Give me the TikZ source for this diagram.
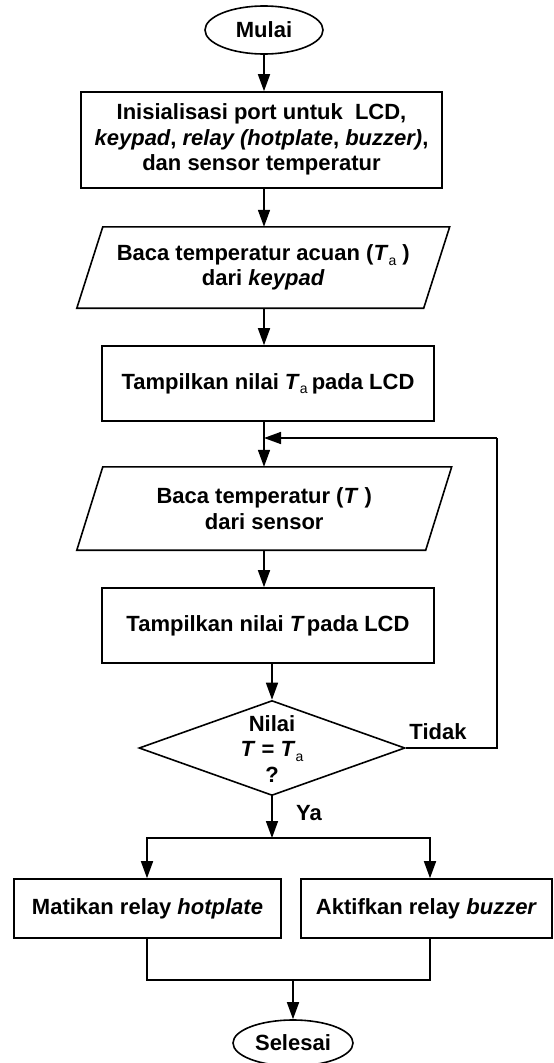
\documentclass[tikz,border=0pt]{standalone}
\usepackage{fontspec}
\setmainfont{Liberation Sans}
\usetikzlibrary{arrows.meta,shapes.geometric}
\newcommand{\Tsub}{\textit{T}\raisebox{-0.4ex}{\fontsize{14}{14}\selectfont\mdseries a}}
\begin{document}
\begin{tikzpicture}[x=1pt,y=-1pt,
  every node/.style={font=\fontsize{22}{25.5}\selectfont\bfseries, inner sep=0pt},
  proc/.style={draw, line width=1.6pt, rectangle, align=center},
  term/.style={draw, line width=1.6pt, ellipse},
  iobox/.style={align=center},
  conn/.style={line width=1.6pt, -{Triangle[length=17pt,width=12pt]}},
  plain/.style={line width=1.6pt},
]
\useasboundingbox (0,0) rectangle (554,1063);
% terminals
\node[term, minimum width=118pt, minimum height=48pt] (mulai) at (264,30) {Mulai};
\node[term, minimum width=120pt, minimum height=46pt] (selesai) at (293,1043) {Selesai};
% process boxes
\node[proc, minimum width=361pt, minimum height=96pt] (box1) at (261.5,140) {\raisebox{-4pt}{\begin{tabular}{@{}c@{}}Inisialisasi port untuk\ \ LCD,\\ \textit{keypad}, \textit{relay (hotplate}, \textit{buzzer)},\\ dan sensor temperatur\end{tabular}}};
\node[proc, minimum width=332pt, minimum height=75pt] (box2) at (268,383.5) {Tampilkan nilai \Tsub\hspace{4pt}pada LCD};
\node[proc, minimum width=332pt, minimum height=75pt] (box3) at (268,625.5) {Tampilkan nilai \textit{T}\hspace{2pt}pada LCD};
\node[proc, minimum width=267pt, minimum height=59pt] (lbox) at (147.5,908.5) {Matikan relay \textit{hotplate}};
\node[proc, minimum width=251pt, minimum height=59pt] (rbox) at (426.5,908.5) {Aktifkan relay \textit{buzzer}};
% input/output parallelograms
\node[iobox, minimum width=346.5pt, minimum height=81pt] (p1) at (263.25,267.5) {Baca temperatur acuan (\Tsub\ )\\ dari \textit{keypad}};
\draw[plain] ([xshift=13pt]p1.north west) -- ([xshift=13pt]p1.north east) -- ([xshift=-13pt]p1.south east) -- ([xshift=-13pt]p1.south west) -- cycle;
\node[iobox, minimum width=348.5pt, minimum height=83pt] (p2) at (264.25,508.5) {Baca temperatur (\textit{T} )\\ dari sensor};
\draw[plain] ([xshift=13pt]p2.north west) -- ([xshift=13pt]p2.north east) -- ([xshift=-13pt]p2.south east) -- ([xshift=-13pt]p2.south west) -- cycle;
% decision
\node[diamond, draw, line width=1.6pt, minimum width=266pt, minimum height=95pt] (dia) at (272,748) {};
\node[align=center] (q) at (272,749) {Nilai\\ \textit{T} = \Tsub\\ ?};
% labels
\node (ya) at (309,813) {Ya};
\node (tidak) at (438,732) {Tidak};
% coordinates
\coordinate (loopr) at (497,438);
\coordinate (split) at (272,838);
\coordinate (join) at (293,980);
% connectors
\draw[conn] (mulai.south) -- (mulai.south |- box1.north);
\draw[conn] (mulai.south |- box1.south) -- (mulai.south |- p1.north);
\draw[conn] (mulai.south |- p1.south) -- (mulai.south |- box2.north);
\draw[conn] (mulai.south |- box2.south) -- (mulai.south |- p2.north);
\draw[conn] (mulai.south |- p2.south) -- (mulai.south |- box3.north);
\draw[conn] (dia.north |- box3.south) -- (dia.north);
\draw[plain] (dia.east) -| (loopr);
\draw[conn] (loopr) -- (mulai.south |- loopr);
\draw[conn] (dia.south) -- (split);
\draw[conn] (split) -| ([xshift=-0.5pt]lbox.north);
\draw[conn] (split) -| ([xshift=3.5pt]rbox.north);
\draw[plain] ([xshift=-0.5pt]lbox.south) |- (join);
\draw[plain] ([xshift=3.5pt]rbox.south) |- (join);
\draw[conn] (join) -- (selesai.north);
\end{tikzpicture}
\end{document}
